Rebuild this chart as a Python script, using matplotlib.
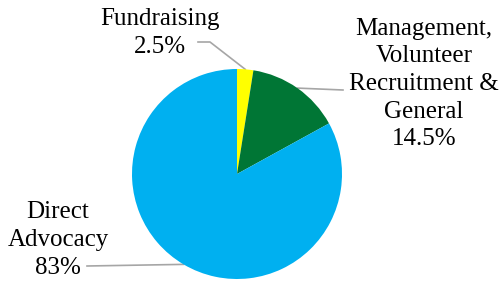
import numpy as np
import matplotlib.pyplot as plt

# data
labels = ["Fundraising", "Management,\nVolunteer\nRecruitment &\nGeneral", "Direct\nAdvocacy"]
pct_labels = ["2.5%", "14.5%", "83%"]
values = [2.5, 14.5, 83]
colors = ["#FFFF00", "#007635", "#00B0F0"]

plt.rcParams['font.family'] = ['Liberation Serif', 'DejaVu Serif']

fig = plt.figure(figsize=(5.04, 2.81), dpi=100)
ax = fig.add_axes([0, 0, 1, 1])

cx, cy, r = 237, 107, 105
wedges, _ = ax.pie(values, colors=colors, startangle=90, counterclock=False,
                   center=(cx, cy), radius=r, frame=True,
                   wedgeprops=dict(linewidth=0))
ax.set_xlim(0, 504)
ax.set_ylim(0, 281)
ax.set_aspect('equal')
ax.axis('off')

# label anchor points (text position, leader line knee)
text_pos = [(160, 248), (424, 197), (58, 41)]
knees = [[(198, 239), (210, 239)], [(343, 191)], [(87, 15)]]

for w, lab, pct, tp, kn in zip(wedges, labels, pct_labels, text_pos, knees):
    mid = np.deg2rad((w.theta1 + w.theta2) / 2)
    ex, ey = cx + r * np.cos(mid), cy + r * np.sin(mid)
    xs = [p[0] for p in kn] + [ex]
    ys = [p[1] for p in kn] + [ey]
    ax.plot(xs, ys, color="#A6A6A6", lw=1.2, zorder=0)
    ax.text(tp[0], tp[1], lab + "\n" + pct, ha='center', va='center',
            fontsize=18, linespacing=1.33, color="black")

fig.savefig("out.png", dpi=100)
